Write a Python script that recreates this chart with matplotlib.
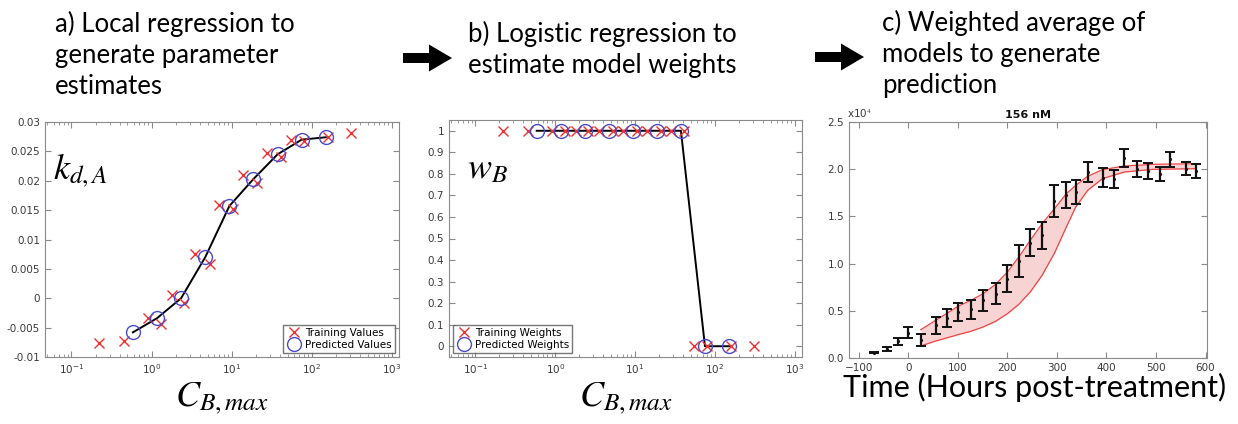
import numpy as np
import matplotlib
matplotlib.use("Agg")
import matplotlib.pyplot as plt
from matplotlib.ticker import FuncFormatter, LogLocator, NullFormatter
from matplotlib.patches import FancyArrow

plt.rcParams['mathtext.fontset'] = 'stix'

# ---------------- data ----------------
# Panel a: local regression of k_dA
train_x = [0.22, 0.45, 0.90, 1.33, 1.82, 2.55, 3.5, 5.3, 7.0, 10.5, 14.0, 21.0, 28.0, 41.0, 55.0, 80.0, 160.0, 310.0]
train_kda = [-0.0077, -0.0073, -0.0034, -0.0043, 0.0006, -0.0008, 0.0076, 0.0058, 0.0159, 0.0152,
             0.0209, 0.0197, 0.0248, 0.0240, 0.0270, 0.0267, 0.0275, 0.0282]
pred_x = [0.586, 1.17, 2.34, 4.69, 9.38, 18.75, 37.5, 75.0, 150.0]
pred_kda = [-0.0058, -0.0034, 0.0000, 0.0070, 0.0157, 0.0203, 0.0245, 0.0270, 0.0274]

# Panel b: logistic regression of weights
train_wb = [1, 1, 1, 1, 1, 1, 1, 1, 1, 1, 1, 1, 1, 1, 0, 0, 0, 0]
pred_wb = [1, 1, 1, 1, 1, 1, 1, 0, 0]

# Panel c: weighted average prediction, 156 nM
time_h = [-70, -44, -21, 0, 25, 55, 77, 101, 126, 151, 176, 200, 223, 246, 270, 295,
          319, 338, 362, 392, 415, 436, 461, 483, 508, 529, 560, 580]
signal = [560, 990, 1760, 2680, 1940, 3460, 4240, 4840, 5160, 6110, 6820, 8400, 10280, 12220,
          12990, 16630, 17300, 17590, 19670, 19100, 19000, 21190, 20060, 19810, 19530, 21050, 20060, 19810]
signal_err = [60, 200, 400, 560, 620, 880, 950, 970, 990, 1100, 1150, 1430, 1700, 1410,
              1450, 1680, 1360, 1270, 1060, 1020, 940, 1000, 850, 810, 740, 800, 700, 690]
band_t = [25, 55, 77, 100, 126, 151, 176, 200, 223, 246, 270, 295, 319, 338, 362, 392, 436, 494, 580]
band_upper = [3000, 3990, 4700, 5470, 6110, 6815, 7800, 9110, 10700, 12465, 14230, 15820,
              17410, 18290, 19245, 19950, 20340, 20515, 20586]
band_lower = [1270, 1800, 2120, 2470, 2825, 3285, 3885, 4700, 5685, 6990, 8760, 11120,
              13880, 16000, 17760, 19000, 19700, 19985, 20056]

header_a = ['a) Local regression to', 'generate parameter', 'estimates']
header_b = ['b) Logistic regression to', 'estimate model weights']
header_c = ['c) Weighted average of', 'models to generate', 'prediction']

# ---------------- figure ----------------
W, H = 1238, 424
fig = plt.figure(figsize=(W / 100, H / 100), dpi=100)
fig.patch.set_facecolor('white')

def px_axes(l, r, t, b):
    return fig.add_axes([l / W, (H - b) / H, (r - l) / W, (b - t) / H])

TICKC = '#3a3a3a'
SPINEC = '#8a8a8a'

def style(ax):
    for s in ax.spines.values():
        s.set_color(SPINEC)
        s.set_linewidth(0.8)
    ax.tick_params(which='both', direction='in', top=True, right=True,
                   colors=SPINEC, labelcolor=TICKC, labelsize=7.5)
    ax.tick_params(which='major', length=4)
    ax.tick_params(which='minor', length=2)

red = '#f03030'
blue = '#4a4ad0'

# ---- panel a ----
axa = px_axes(45, 399, 122, 357)
axa.set_xscale('log')
axa.plot(pred_x, pred_kda, color='black', lw=1.4, zorder=2)
axa.plot(train_x, train_kda, 'x', color=red, ms=7, mew=1.0, ls='none', label='Training Values', zorder=3)
axa.plot(pred_x, pred_kda, 'o', mfc='none', mec=blue, ms=10, mew=1.0, ls='none', label='Predicted Values', zorder=4)
axa.set_xlim(10 ** -1.33, 10 ** 3.09)
axa.set_ylim(-0.01, 0.03)
axa.set_yticks(np.arange(-0.01, 0.0301, 0.005))
axa.yaxis.set_major_formatter(FuncFormatter(lambda v, p: '0' if abs(v) < 1e-9 else ('%g' % round(v, 4))))
axa.xaxis.set_major_locator(LogLocator(base=10, numticks=10))
axa.xaxis.set_minor_locator(LogLocator(base=10, subs=np.arange(2, 10), numticks=20))
axa.xaxis.set_minor_formatter(NullFormatter())
style(axa)
axa.legend(loc='lower right', fontsize=7.5, frameon=True, fancybox=False, edgecolor='#555555',
           borderpad=0.3, handletextpad=0.3, labelspacing=0.2, borderaxespad=0.4, handlelength=1.5)
axa.text(0.022, 0.76, r'$k_{d,A}$', transform=axa.transAxes, fontsize=26, va='baseline', ha='left')
fig.text((45 + 399) / 2 / W, 1 - 398 / H, r'$C_{B,max}$', fontsize=26, ha='center', va='center')

# ---- panel b ----
axb = px_axes(449, 802, 120, 357)
axb.set_xscale('log')
axb.plot(pred_x, pred_wb, color='black', lw=1.4, zorder=2)
axb.plot(train_x, train_wb, 'x', color=red, ms=7, mew=1.0, ls='none', label='Training Weights', zorder=3)
axb.plot(pred_x, pred_wb, 'o', mfc='none', mec=blue, ms=10, mew=1.0, ls='none', label='Predicted Weights', zorder=4)
axb.set_xlim(10 ** -1.33, 10 ** 3.09)
axb.set_ylim(-0.05, 1.05)
axb.set_yticks(np.arange(0, 1.01, 0.1))
axb.yaxis.set_major_formatter(FuncFormatter(lambda v, p: '%g' % round(v, 2)))
axb.xaxis.set_major_locator(LogLocator(base=10, numticks=10))
axb.xaxis.set_minor_locator(LogLocator(base=10, subs=np.arange(2, 10), numticks=20))
axb.xaxis.set_minor_formatter(NullFormatter())
style(axb)
axb.legend(loc='lower left', fontsize=7.5, frameon=True, fancybox=False, edgecolor='#555555',
           borderpad=0.3, handletextpad=0.3, labelspacing=0.2, borderaxespad=0.4, handlelength=1.5)
axb.text(0.05, 0.755, r'$w_B$', transform=axb.transAxes, fontsize=26, va='baseline', ha='left')
fig.text((449 + 802) / 2 / W, 1 - 398 / H, r'$C_{B,max}$', fontsize=26, ha='center', va='center')

# ---- panel c ----
axc = px_axes(849, 1207, 122, 358)
axc.fill_between(band_t, band_lower, band_upper, color='#f7c8c8', alpha=0.8, lw=0, zorder=1)
axc.plot(band_t, band_upper, color='#ee4444', lw=0.9, zorder=2)
axc.plot(band_t, band_lower, color='#ee4444', lw=0.9, zorder=2)
axc.errorbar(time_h, signal, yerr=signal_err, fmt='.', color='#111111', ms=2.5,
             elinewidth=1.6, capsize=3.5, capthick=1.4, zorder=3)
axc.set_xlim(-120, 603)
axc.set_ylim(0, 25000)
axc.set_xticks(np.arange(-100, 601, 100))
axc.set_yticks(np.arange(0, 25001, 5000))
axc.yaxis.set_major_formatter(FuncFormatter(lambda v, p: '%.1f' % (v / 1e4)))
style(axc)
axc.text(-0.005, 1.01, r'x10$^4$', transform=axc.transAxes, fontsize=7.5, color=TICKC, ha='left', va='bottom')
axc.set_title('156 nM', fontsize=8, fontweight='bold', pad=3, color='#111111')
fig.text(843 / W, 1 - 397 / H, 'Time (Hours post-treatment)', fontsize=22,
         family='Lato', ha='left', va='baseline')

# ---- headers ----
hdr = dict(fontsize=18.5, family='Lato', ha='left', va='baseline')
for i, line in enumerate(header_a):
    fig.text(55 / W, 1 - (32 + 31 * i) / H, line, **hdr)
for i, line in enumerate(header_b):
    fig.text(468 / W, 1 - (42 + 31 * i) / H, line, **hdr)
for i, line in enumerate(header_c):
    fig.text(882 / W, 1 - (31 + 31 * i) / H, line, **hdr)

# ---- arrows ----
for x0, yc in ((403, 58), (815, 57)):
    arr = FancyArrow(x0 / W, 1 - yc / H, 49 / W, 0, width=10 / H, head_width=27 / H,
                     head_length=23 / W, length_includes_head=True, transform=fig.transFigure,
                     color='black', lw=0)
    fig.patches.append(arr)

fig.savefig('out.png', dpi=100, facecolor='white')
